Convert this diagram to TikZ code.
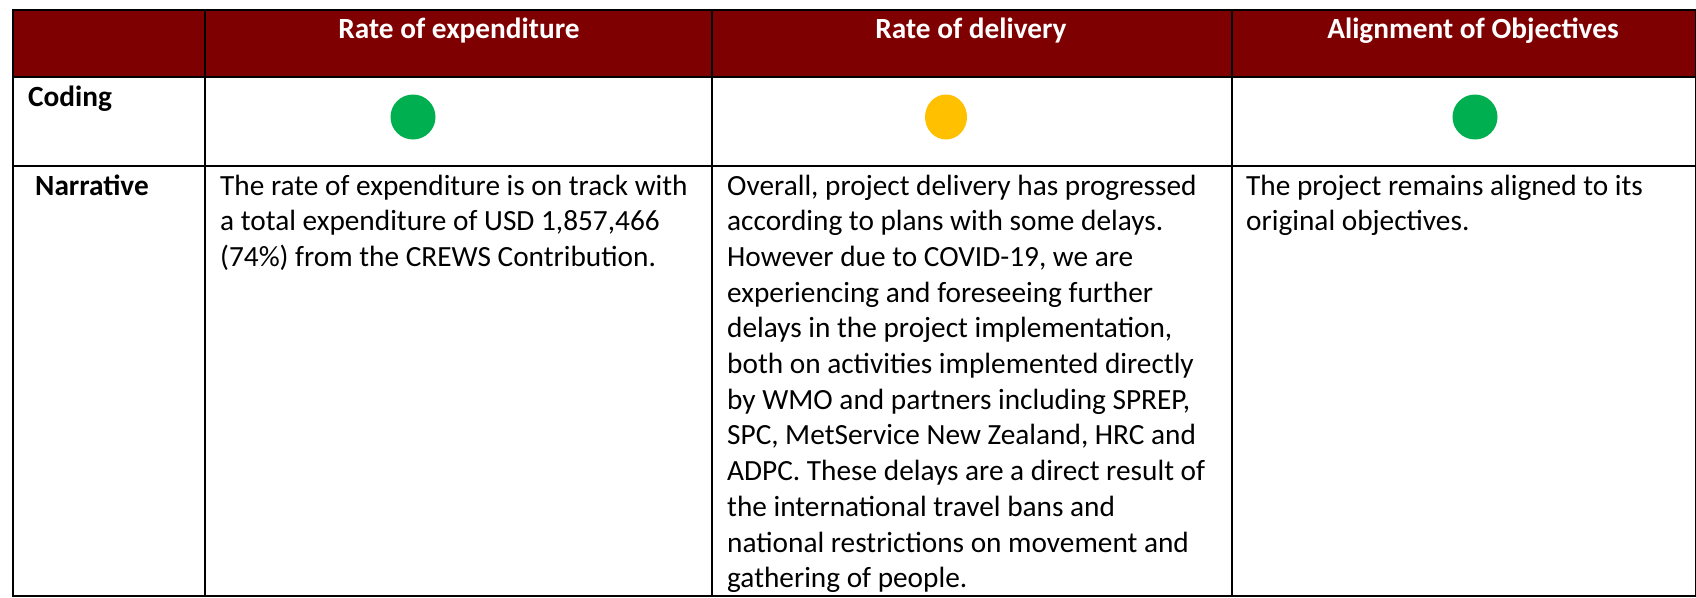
\documentclass[tikz,border=0pt]{standalone}
\usepackage{fontspec}
\setmainfont{Carlito}
\usetikzlibrary{shapes.geometric}
\definecolor{hdr}{HTML}{7F0000}
\definecolor{okgreen}{HTML}{00B050}
\definecolor{amber}{HTML}{FFC000}
\newcommand{\lines}[1]{\begin{tabular}[t]{@{}l@{}}#1\end{tabular}}
\begin{document}
\begin{tikzpicture}[x=1pt,y=-1pt,
  body/.style={anchor=base west, inner sep=0pt, font=\fontsize{29.3}{35.7}\selectfont},
  head/.style={anchor=base, inner sep=0pt, text=white, font=\fontsize{29.3}{35.7}\selectfont\bfseries},
  lab/.style={anchor=base west, inner sep=0pt, font=\fontsize{29.3}{35.7}\selectfont\bfseries},
  grid/.style={line width=2pt, black},
  dot/.style={circle, inner sep=0pt, minimum size=45pt}]
\useasboundingbox (0,0) rectangle (1696,597);
\fill[hdr] (13,10) rectangle (1700,77);
% grid
\draw[grid] (12,10) -- (1700,10);
\draw[grid] (12,77) -- (1700,77);
\draw[grid] (12,166) -- (1700,166);
\draw[grid] (12,596) -- (1700,596);
\draw[grid] (13,9) -- (13,597);
\draw[grid] (205,9) -- (205,597);
\draw[grid] (712,9) -- (712,597);
\draw[grid] (1232,9) -- (1232,597);
\draw[grid] (1696,9) -- (1696,597);
% header
\node[head] (h1) at (459,38) {Rate of expenditure};
\node[head] (h2) at (971,38) {Rate of delivery};
\node[head] (h3) at (1473,38) {Alignment of Objectives};
% row labels
\node[lab] (coding) at (28,106) {Coding};
\node[lab] (narr) at (35,195) {Narrative};
% dots
\node[dot, fill=okgreen] (d1) at (413,117) {};
\node[ellipse, inner sep=0pt, fill=amber, minimum width=42pt, minimum height=45pt] (d2) at (946,117) {};
\node[dot, fill=okgreen] (d3) at (1475,117) {};
% narratives
\node[body] (t1) at (220,195) {\lines{The rate of expenditure is on track with\\a total expenditure of USD 1,857,466\\(74\%) from the CREWS Contribution.}};
\node[body] (t2) at (727,195) {\lines{Overall, project delivery has progressed\\according to plans with some delays.\\However due to COVID-19, we are\\experiencing and foreseeing further\\delays in the project implementation,\\both on activities implemented directly\\by WMO and partners including SPREP,\\SPC, MetService New Zealand, HRC and\\ADPC. These delays are a direct result of\\the international travel bans and\\national restrictions on movement and\\gathering of people.}};
\node[body] (t3) at (1246,195) {\lines{The project remains aligned to its\\original objectives.}};
\end{tikzpicture}
\end{document}
